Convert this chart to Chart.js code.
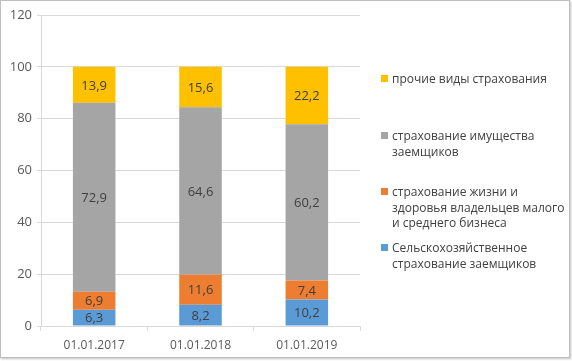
<!DOCTYPE html>
<html>
<head>
<meta charset="utf-8">
<script src="https://cdn.jsdelivr.net/npm/chart.js@4/dist/chart.umd.min.js"></script>
<style>
  body { margin: 0; background: #fff; }
  #wrap { position: relative; width: 572px; height: 361px; font-family: "Open Sans", sans-serif; }
  #frame { position: absolute; left: 0; top: 0; width: 568px; height: 356px; border: 1px solid #bfbfbf; box-shadow: 1px 1px 2px rgba(0,0,0,0.25); }
  canvas { position: absolute; left: 0; top: 0; }
  .leg { position: absolute; left: 381px; font-size: 12px; line-height: 15.5px; color: #404040; }
  .leg i { position: absolute; left: 0; top: 4px; width: 7px; height: 7px; }
  .leg span { display: block; margin-left: 11px; white-space: nowrap; }
</style>
</head>
<body>
<div id="wrap">
  <div id="frame"></div>
  <canvas id="chart" width="572" height="361"></canvas>
  <div id="legend"></div>
</div>
<script>
const categories = ["01.01.2017", "01.01.2018", "01.01.2019"];
const seriesNames = [
  "Сельскохозяйственное страхование заемщиков",
  "страхование жизни и здоровья владельцев малого и среднего бизнеса",
  "страхование имущества заемщиков",
  "прочие виды страхования"
];
const agriValues = [6.3, 8.2, 10.2];
const lifeValues = [6.9, 11.6, 7.4];
const propertyValues = [72.9, 64.6, 60.2];
const otherValues = [13.9, 15.6, 22.2];
const colors = ["#5b9bd5", "#ed7d31", "#a5a5a5", "#ffc000"];

// legend lines as in the picture (top to bottom, reversed order)
const legendLines = [
  ["прочие виды страхования"],
  ["страхование имущества", "заемщиков"],
  ["страхование жизни и", "здоровья владельцев малого", "и среднего бизнеса"],
  ["Сельскохозяйственное", "страхование заемщиков"]
];
const legendTops = [71, 128, 184, 240];

const allValues = [agriValues, lifeValues, propertyValues, otherValues];

const valueLabels = {
  id: "valueLabels",
  afterDatasetsDraw(chart) {
    const ctx = chart.ctx;
    ctx.save();
    ctx.font = "13px 'Open Sans'";
    ctx.fillStyle = "#404040";
    ctx.textAlign = "center";
    ctx.textBaseline = "middle";
    chart.data.datasets.forEach((ds, i) => {
      chart.getDatasetMeta(i).data.forEach((bar, j) => {
        const y = (bar.y + bar.base) / 2;
        ctx.fillText(ds.data[j].toFixed(1).replace(".", ","), bar.x, y + 1);
      });
    });
    ctx.restore();
  }
};

new Chart(document.getElementById("chart"), {
  type: "bar",
  data: {
    labels: categories,
    datasets: allValues.map((vals, i) => ({
      label: seriesNames[i],
      data: vals,
      backgroundColor: colors[i],
      barPercentage: 0.8,
      categoryPercentage: 0.5
    }))
  },
  options: {
    responsive: false,
    animation: false,
    layout: { padding: { top: 15, right: 212, left: 0, bottom: 0 } },
    plugins: { legend: { display: false }, tooltip: { enabled: false } },
    scales: {
      x: {
        stacked: true,
        afterFit: (s) => { s.height = 35; },
        grid: { offset: true, drawOnChartArea: false, drawTicks: true, tickLength: 5, color: "#d9d9d9" },
        border: { color: "#d9d9d9" },
        ticks: { color: "#595959", font: { family: "Open Sans", size: 12 }, padding: 7 }
      },
      y: {
        stacked: true,
        min: 0,
        max: 120,
        afterFit: (s) => { s.width = 41; },
        grid: { color: "#d9d9d9", tickLength: 4 },
        border: { color: "#d9d9d9" },
        ticks: { stepSize: 20, color: "#595959", font: { family: "Open Sans", size: 13 }, padding: 5 }
      }
    }
  },
  plugins: [valueLabels]
});

const legend = document.getElementById("legend");
legendLines.forEach((lines, k) => {
  const idx = seriesNames.length - 1 - k;
  const d = document.createElement("div");
  d.className = "leg";
  d.style.top = legendTops[k] + "px";
  const mark = document.createElement("i");
  mark.style.background = colors[idx];
  d.appendChild(mark);
  lines.forEach(t => {
    const s = document.createElement("span");
    s.textContent = t;
    d.appendChild(s);
  });
  legend.appendChild(d);
});
</script>
</body>
</html>
